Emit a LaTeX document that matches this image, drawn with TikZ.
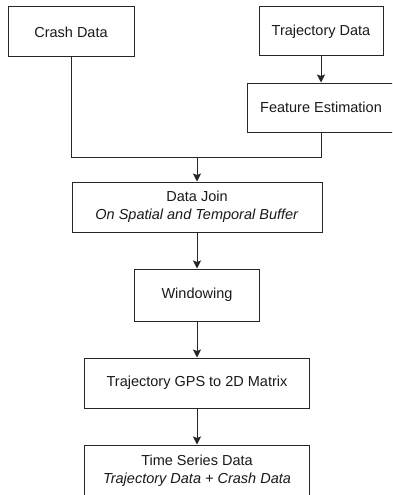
\documentclass[tikz,border=0pt]{standalone}
\usepackage{fontspec}
\setmainfont{Liberation Sans}
\usetikzlibrary{arrows.meta}
\tikzset{
    box/.style={draw=black!85, line width=1pt, minimum height=50pt, inner sep=0pt, align=center, font=\fontsize{14.5}{18}\selectfont, text=black!90},
    flow/.style={draw=black!85, line width=1pt, -{Stealth[length=8pt, width=8pt, inset=1.5pt]}},
    link/.style={draw=black!85, line width=1pt}
}

\begin{document}
\begin{tikzpicture}[x=1pt, y=-1pt]
    \useasboundingbox (0,0) rectangle (392,495);
    \clip (0,0) rectangle (392,495);
    \node[box, minimum width=126pt] (crash) at (71,32) {Crash Data};
    \node[box, minimum width=124pt, minimum height=49pt] (traj) at (321,31.5) {Trajectory Data};
    \node[box, minimum width=148pt, minimum height=49pt] (feat) at (321,107.5) {Feature Estimation};
    \node[box, minimum width=250pt] (join) at (197,207) {Data Join\\\textit{On Spatial and Temporal Buffer}};
    \node[box, minimum width=125pt, minimum height=52pt] (win) at (197,295) {Windowing};
    \node[box, minimum width=225pt] (gps) at (197,383) {Trajectory GPS to 2D Matrix};
    \node[box, minimum width=225pt, minimum height=52pt] (series) at (197,471) {Time Series Data\\\textit{Trajectory Data + Crash Data}};
    \coordinate (merge) at (197,157.5);
    \draw[flow] (traj.south) -- (feat.north);
    \draw[link] (crash.south) |- (merge) -| (feat.south);
    \draw[flow] (merge) -- (join.north);
    \draw[flow] (join.south) -- (win.north);
    \draw[flow] (win.south) -- (gps.north);
    \draw[flow] (gps.south) -- (series.north);
\end{tikzpicture}
\end{document}
